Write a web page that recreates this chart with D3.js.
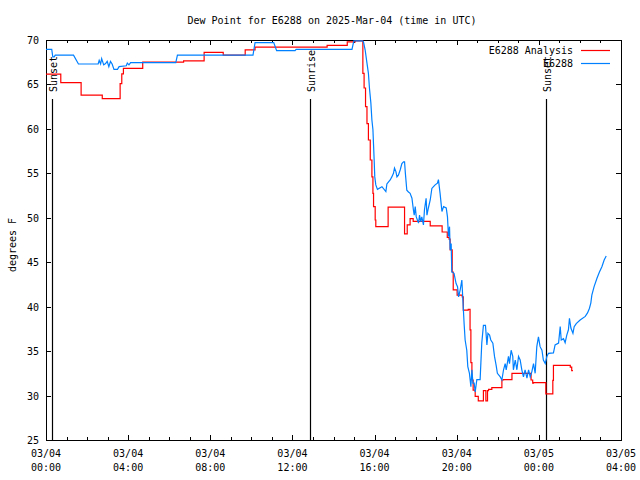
<!DOCTYPE html>
<html><head><meta charset="utf-8">
<script src="https://cdn.jsdelivr.net/npm/d3@7"></script>
<style>body{margin:0;background:#fff}</style></head>
<body>
<script>
// ---------- data ----------
const chartTitle = "Dew Point for E6288 on 2025-Mar-04 (time in UTC)";
const yAxisLabel = "degrees F";
const seriesNames = ["E6288 Analysis", "E6288"];
const xTickHours = [0, 4, 8, 12, 16, 20, 24, 28];
const xTickDates = ["03/04", "03/04", "03/04", "03/04", "03/04", "03/04", "03/05", "03/05"];
const xTickTimes = ["00:00", "04:00", "08:00", "12:00", "16:00", "20:00", "00:00", "04:00"];
const yTicks = [25, 30, 35, 40, 45, 50, 55, 60, 65, 70];
const eventNames = ["Sunset", "Sunrise", "Sunset"];
const eventHours = [0.30, 12.84, 24.33];

// hours since 2025-03-04 00:00 UTC, dew point in F
const analysisHours = [0, 0.72, 1.71, 2.74, 3.61, 3.69, 3.77, 4.71, 6.7, 7.7, 8.63, 9.7, 10.18, 13.69, 14.67, 15.06,
  15.43, 15.49, 15.56, 15.63, 15.7, 15.79, 15.87, 15.92, 15.95, 16.03, 16.06, 16.66, 17.46, 17.59, 17.73, 17.88,
  18.71, 19.29, 19.54, 19.63, 19.68, 19.78, 19.83, 20.02, 20.27, 20.32, 20.56, 20.65, 20.69, 20.74, 20.8, 20.9,
  21.05, 21.3, 21.42, 21.5, 21.55, 21.71, 22.2, 22.28, 22.69, 23.62, 23.7, 23.74, 24.34, 24.68, 24.71,
  25.53, 25.6, 25.66];
const analysisValues = [66.15, 65.2, 63.8, 63.4, 65.1, 66.2, 66.8, 67.5, 67.65, 68.6, 68.3, 68.9, 69.2, 69.4, 69.8, 69.9,
  66.25, 64.6, 62.5, 60.6, 58.75, 56.5, 54.6, 52.75, 51.25, 49.75, 49.0, 51.2, 48.2, 49.2, 49.9, 49.6,
  49.1, 48.4, 47.8, 47.6, 46.4, 43.9, 41.9, 41.3, 41.1, 39.6, 39.7, 37.4, 33.7, 31.75, 30.6, 29.9,
  29.4, 30.55, 29.4, 30.55, 30.7, 30.9, 31.75, 31.8, 32.5, 31.75, 31.4, 31.45, 30.2, 31.7, 33.4,
  33.2, 32.8, 32.8];

const obsHours = [0, 0.28, 0.33, 0.4, 0.45, 1.34, 1.58, 2.54, 2.59, 2.66, 2.71, 2.81, 2.9, 2.98, 3.06, 3.14, 3.22, 3.31,
  3.48, 3.56, 3.91, 3.96, 4.04, 4.12, 6.32, 6.4, 10.08, 10.18, 11.09, 11.23, 12.13, 12.18, 14.9, 14.99, 15.41,
  15.46, 15.54, 15.63, 15.7, 15.75, 15.82, 15.87, 15.92, 15.95, 15.98, 16.01, 16.06, 16.14, 16.36, 16.55, 16.6,
  16.68, 16.76, 16.84, 16.92, 16.97, 17.04, 17.09, 17.16, 17.25, 17.33, 17.41, 17.46, 17.5, 17.57, 17.65, 17.73,
  17.82, 17.89, 17.93, 17.98, 18.03, 18.14, 18.19, 18.25, 18.3, 18.38, 18.43, 18.51, 18.55, 18.62, 18.71,
  18.79, 18.87, 18.95, 19.06, 19.11, 19.19, 19.28, 19.36, 19.49, 19.55, 19.6, 19.65, 19.68, 19.73, 19.76, 19.87,
  19.97, 20.04, 20.09, 20.17, 20.25, 20.3, 20.36, 20.41, 20.49, 20.54, 20.62, 20.69, 20.74, 20.79, 20.85,
  20.9, 20.98, 21.14, 21.22, 21.3, 21.4, 21.47, 21.52, 21.6, 21.66, 21.76, 21.84, 21.92, 21.98, 22.12,
  22.2, 22.28, 22.36, 22.41, 22.52, 22.57, 22.65, 22.73, 22.76, 22.85, 22.93, 23.01, 23.09, 23.17, 23.25,
  23.33, 23.42, 23.5, 23.58, 23.66, 23.74, 23.82, 23.9, 23.98, 24.06, 24.15, 24.22, 24.31, 24.39, 24.47,
  24.71, 24.79, 24.96, 25.04, 25.09, 25.2, 25.28, 25.36, 25.44, 25.49, 25.56, 25.66, 25.72, 25.82, 26.01, 26.26,
  26.37, 26.46, 26.53, 26.58, 26.69, 26.83, 26.95, 27.07, 27.18, 27.28];
const obsValues = [68.95, 68.95, 68.1, 68.1, 68.3, 68.3, 67.3, 67.3, 67.7, 67.3, 67.9, 67.2, 67.35, 67.6, 67.0, 67.6, 67.3, 66.7,
  66.7, 67.0, 67.1, 67.4, 67.2, 67.45, 67.45, 68.3, 68.3, 69.7, 69.7, 68.8, 68.8, 68.95, 68.95, 69.9, 69.9,
  69.8, 68.9, 67.4, 66.25, 64.6, 62.9, 61.0, 59.9, 58.2, 56.5, 54.6, 53.7, 53.2, 53.5, 52.95, 53.8,
  54.05, 54.25, 54.6, 55.0, 55.6, 55.2, 54.6, 54.8, 55.4, 56.1, 56.3, 56.3, 55.0, 53.1, 52.9, 52.75,
  52.2, 50.9, 50.3, 51.25, 50.1, 49.4, 50.3, 49.55, 50.1, 49.2, 50.9, 52.2, 50.3, 51.1, 52.0,
  53.3, 53.5, 53.7, 53.9, 54.3, 52.75, 50.7, 51.25, 51.1, 50.1, 47.9, 49.0, 46.4, 47.1, 43.9, 43.75,
  42.6, 42.25, 41.1, 41.9, 43.0, 40.75, 38.1, 36.25, 35.1, 33.25, 32.5, 31.0, 32.9, 31.4, 31.4,
  30.4, 31.8, 31.8, 35.9, 37.9, 37.9, 35.7, 37.0, 36.8, 36.25, 35.9, 34.4, 33.4, 32.5, 32.1,
  31.75, 32.9, 33.6, 32.9, 34.4, 33.6, 35.1, 34.4, 32.9, 34.0, 32.9, 34.4, 34.0, 32.9, 32.1,
  32.9, 31.95, 32.9, 32.1, 32.7, 33.6, 32.5, 35.5, 36.6, 35.5, 35.1, 34.0, 33.6, 34.4, 34.75,
  34.8, 35.7, 35.9, 37.75, 36.25, 36.4, 35.95, 36.8, 37.4, 38.7, 37.6, 37.0, 37.75, 38.1, 38.5, 38.9,
  39.3, 39.8, 40.4, 41.3, 42.25, 43.2, 43.9, 44.5, 45.25, 45.7];

// ---------- drawing ----------
const W = 640, H = 480;
const M = {left: 46, right: 621, top: 40, bottom: 440};
const FONT = "'DejaVu Sans Mono', 'Liberation Mono', monospace";
const RED = "#ff0000", BLUE = "#0080ff";

const svg = d3.select("body").append("svg").attr("width", W).attr("height", H)
  .style("font-family", FONT).style("font-size", "10px");
svg.append("rect").attr("width", W).attr("height", H).attr("fill", "#fff");

const x = d3.scaleLinear().domain([0, 28]).range([M.left, M.right]);
const y = d3.scaleLinear().domain([25, 70]).range([M.bottom, M.top]);

// title
svg.append("text").attr("x", 332).attr("y", 24).attr("text-anchor", "middle").attr("fill", "#000").text(chartTitle);
// y label
svg.append("text").attr("transform", `translate(16,245) rotate(-90)`).attr("text-anchor", "middle")
  .attr("fill", "#000").text(yAxisLabel);

const minorHours = d3.range(0, 29, 1);

// bottom axis
const gB = svg.append("g").attr("transform", `translate(0,${M.bottom})`)
  .call(d3.axisBottom(x).tickValues(minorHours).tickSize(0).tickFormat(""));
gB.select(".domain").remove();
gB.selectAll(".tick line").attr("y2", d => d % 4 === 0 ? -5 : -3).attr("stroke", "#000").attr("shape-rendering", "crispEdges");
// top axis
const gT = svg.append("g").attr("transform", `translate(0,${M.top})`)
  .call(d3.axisTop(x).tickValues(minorHours).tickSize(0).tickFormat(""));
gT.select(".domain").remove();
gT.selectAll(".tick line").attr("y2", d => d % 4 === 0 ? 5 : 3).attr("stroke", "#000").attr("shape-rendering", "crispEdges");

// x tick labels (two lines)
const lbl = svg.append("g");
xTickHours.forEach((h, i) => {
  const t = lbl.append("text").attr("x", x(h)).attr("text-anchor", "middle").attr("fill", "#000");
  t.append("tspan").attr("x", x(h)).attr("y", 457).text(xTickDates[i]);
  t.append("tspan").attr("x", x(h)).attr("y", 471).text(xTickTimes[i]);
});

// left / right axes
const gL = svg.append("g").attr("transform", `translate(${M.left},0)`)
  .call(d3.axisLeft(y).tickValues(yTicks).tickSize(0).tickPadding(7).tickFormat(d3.format("d")));
gL.select(".domain").remove();
gL.selectAll(".tick line").attr("x2", 5).attr("stroke", "#000").attr("shape-rendering", "crispEdges");
gL.selectAll(".tick text").attr("font-family", FONT).attr("font-size", "10px").attr("fill", "#000").attr("dy", "0.35em");
const gR = svg.append("g").attr("transform", `translate(${M.right},0)`)
  .call(d3.axisRight(y).tickValues(yTicks).tickSize(0).tickFormat(""));
gR.select(".domain").remove();
gR.selectAll(".tick line").attr("x2", -5).attr("stroke", "#000").attr("shape-rendering", "crispEdges");

// frame
svg.append("rect").attr("x", M.left + 0.5).attr("y", M.top + 0.5)
  .attr("width", M.right - M.left).attr("height", M.bottom - M.top)
  .attr("fill", "none").attr("stroke", "#000").attr("shape-rendering", "crispEdges");

// event lines
eventHours.forEach((h, i) => {
  const xe = Math.round(x(h)) + 0.5;
  svg.append("line").attr("x1", xe).attr("x2", xe).attr("y1", 99).attr("y2", M.bottom)
    .attr("stroke", "#000").attr("stroke-width", 1.2);
  svg.append("text").attr("transform", `translate(${xe + 4},92) rotate(-90)`)
    .attr("text-anchor", "start").attr("fill", "#000").text(eventNames[i]);
});

// series
const analysis = analysisHours.map((h, i) => ({h, v: analysisValues[i]}));
const obs = obsHours.map((h, i) => ({h, v: obsValues[i]}));
const stepLine = d3.line().x(d => x(d.h)).y(d => y(d.v)).curve(d3.curveStepAfter);
const lin = d3.line().x(d => x(d.h)).y(d => y(d.v));
svg.append("path").datum(analysis).attr("d", stepLine).attr("fill", "none").attr("stroke", RED).attr("stroke-width", 1.2);
svg.append("path").datum(obs).attr("d", lin).attr("fill", "none").attr("stroke", BLUE).attr("stroke-width", 1.2);

// legend
const legColors = [RED, BLUE];
seriesNames.forEach((name, i) => {
  const yy = 50 + i * 13;
  svg.append("text").attr("x", 573).attr("y", yy + 4).attr("text-anchor", "end").attr("fill", "#000").text(name);
  svg.append("line").attr("x1", 581).attr("x2", 610).attr("y1", yy + 0.5).attr("y2", yy + 0.5)
    .attr("stroke", legColors[i]).attr("stroke-width", 1.2);
});
</script>
</body></html>
